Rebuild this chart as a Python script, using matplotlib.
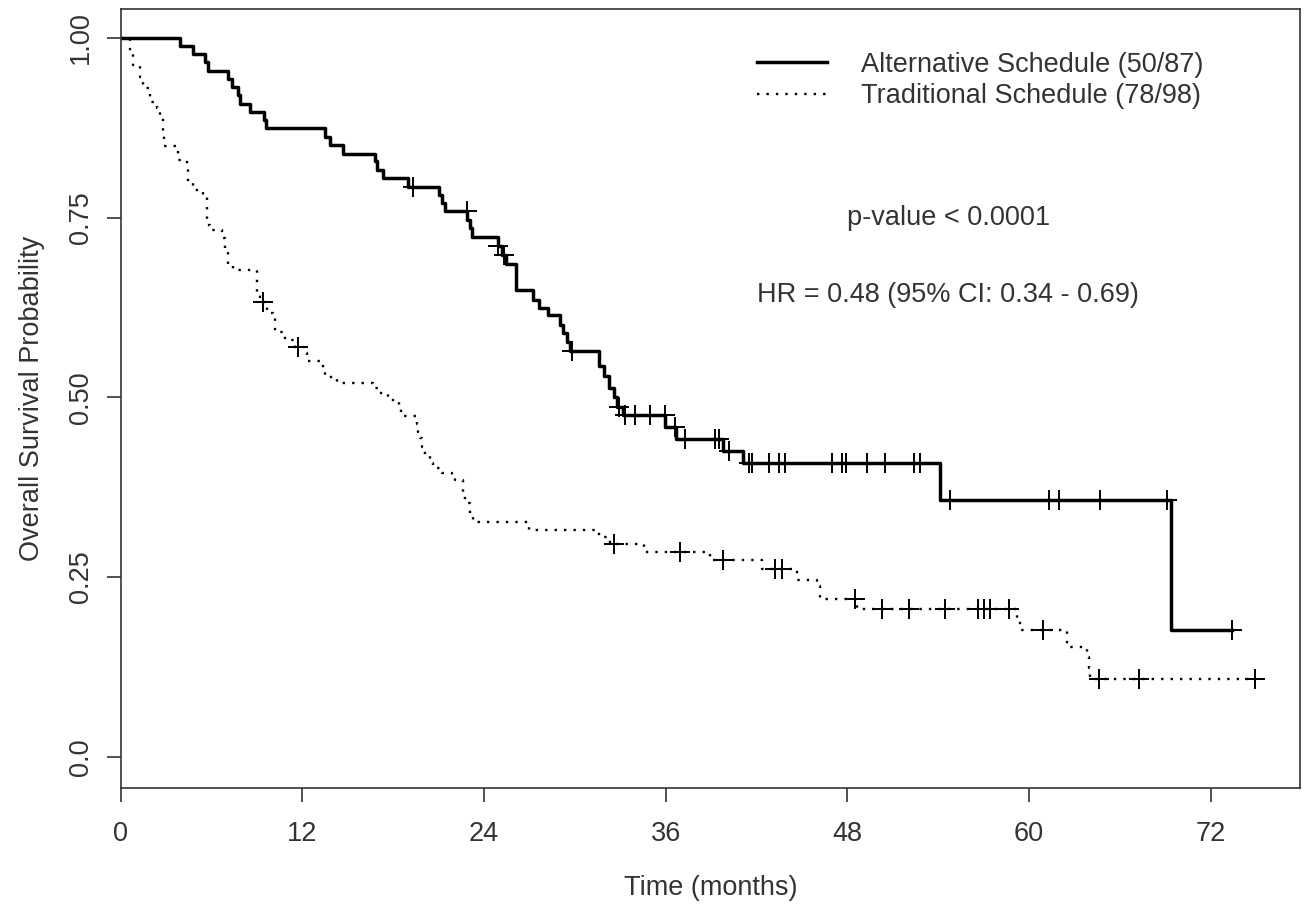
import numpy as np
import matplotlib
matplotlib.use("Agg")
import matplotlib.pyplot as plt

plt.rcParams['font.family'] = ['Liberation Sans', 'DejaVu Sans']

# Kaplan-Meier step points (time in months, survival)
alt_time = [0, 3.92, 4.76, 5.57, 5.79, 7.11, 7.34, 7.77, 7.88, 8.55, 9.47, 9.60,
            13.5, 13.83, 14.71, 16.81, 16.92, 17.36, 19.01, 21.06, 21.25, 21.43,
            22.9, 23.05, 23.2, 24.92, 25.2, 25.45, 26.1, 27.23, 27.6, 28.26,
            29.03, 29.25, 29.5, 29.7, 31.57, 31.9, 32.23, 32.6, 32.8, 33.2,
            35.95, 36.7, 39.79, 41.1, 54.15, 69.4]
alt_surv = [1.0, 0.9885, 0.977, 0.966, 0.954, 0.943, 0.931, 0.920, 0.908, 0.897,
            0.885, 0.874, 0.862, 0.851, 0.839, 0.828, 0.816, 0.805, 0.793, 0.782,
            0.770, 0.759, 0.747, 0.735, 0.723, 0.710, 0.698, 0.686, 0.649, 0.635,
            0.624, 0.614, 0.601, 0.589, 0.577, 0.564, 0.543, 0.529, 0.513, 0.500,
            0.487, 0.475, 0.459, 0.442, 0.426, 0.408, 0.357, 0.177]
alt_censor = [19.34, 22.87, 24.95, 25.3, 29.8, 32.89, 33.3, 34.0, 34.94, 35.93,
              36.6, 37.3, 39.28, 39.5, 40.2, 41.5, 41.7, 42.8, 43.5, 43.9, 47.0,
              47.65, 47.9, 49.3, 50.5, 52.4, 52.8, 54.75, 61.3, 61.97, 64.7,
              69.13, 73.4]

trad_time = [0, 0.6, 0.79, 1.28, 1.5, 1.94, 2.38, 2.6, 2.78, 2.88, 3.81, 4.36,
             4.47, 4.8, 5.46, 5.68, 5.73, 5.9, 6.67, 6.89, 7.11, 7.44, 8.99, 9.2,
             9.65, 10.09, 10.2, 10.86, 11.5, 12.18, 12.3, 13.39, 13.5, 14.28,
             16.7, 17.03, 17.69, 18.41, 18.5, 19.56, 19.67, 19.8, 19.9, 20.0,
             20.44, 20.66, 21.2, 21.88, 22.1, 22.64, 22.87, 23.09, 23.3, 26.94,
             31.57, 32.3, 34.54, 38.95, 42.37, 44.68, 46.0, 46.22, 48.65, 59.2,
             59.4, 62.5, 63.8, 63.95, 64.06]
trad_surv = [1.0, 0.98, 0.962, 0.945, 0.930, 0.911, 0.902, 0.890, 0.867, 0.849,
             0.830, 0.819, 0.798, 0.789, 0.781, 0.761, 0.740, 0.733, 0.721, 0.705,
             0.686, 0.677, 0.647, 0.632, 0.617, 0.612, 0.591, 0.580, 0.570, 0.561,
             0.550, 0.538, 0.528, 0.520, 0.513, 0.506, 0.496, 0.487, 0.474, 0.463,
             0.452, 0.443, 0.431, 0.422, 0.408, 0.401, 0.395, 0.392, 0.385, 0.360,
             0.353, 0.336, 0.327, 0.316, 0.306, 0.296, 0.285, 0.274, 0.261, 0.246,
             0.238, 0.219, 0.205, 0.190, 0.177, 0.153, 0.139, 0.123, 0.108]
trad_censor = [9.43, 11.74, 32.56, 36.92, 39.79, 43.24, 43.69, 48.53, 50.3, 52.06,
               54.48, 56.6, 57.0, 57.4, 58.7, 60.9, 64.6, 67.26, 74.9]

labels = ["Alternative Schedule (50/87)", "Traditional Schedule (78/98)"]
x_ticks = [0, 12, 24, 36, 48, 60, 72]
y_ticks = [0.0, 0.25, 0.50, 0.75, 1.00]
y_ticklabels = ["0.0", "0.25", "0.50", "0.75", "1.00"]

txt = '#333333'
fs = 19.5

fig = plt.figure(figsize=(13.06, 9.05), dpi=100)
ax = fig.add_axes([0.0924, 0.1296, 0.9954 - 0.0924, 0.990 - 0.1296])


def km_curve(times, surv, cens, ls, lw, label):
    times = np.array(times)
    surv = np.array(surv)
    cens = np.array(cens)
    t = np.append(times, cens.max())
    s = np.append(surv, surv[-1])
    ax.step(t, s, where='post', color='black', linestyle=ls, linewidth=lw, label=label)
    # survival value at each censoring time
    idx = np.searchsorted(times, cens, side='right') - 1
    ax.plot(cens, surv[idx], linestyle='none', marker='+', markersize=14,
            markeredgewidth=1.4, color='black')


km_curve(alt_time, alt_surv, alt_censor, '-', 2.5, labels[0])
km_curve(trad_time, trad_surv, trad_censor, (0, (1, 3)), 1.7, labels[1])

ax.set_xlim(0, 77.9)
ax.set_ylim(-0.043, 1.04)
ax.set_xticks(x_ticks)
ax.set_yticks(y_ticks)
ax.set_yticklabels(y_ticklabels, rotation=90, va='center')
ax.tick_params(direction='out', length=10, width=1.2, colors='#333333',
               labelcolor=txt, labelsize=fs)
ax.tick_params(axis='x', pad=14)
ax.tick_params(axis='y', pad=9)
for sp in ax.spines.values():
    sp.set_color('#333333')
    sp.set_linewidth(1.2)

ax.set_xlabel("Time (months)", fontsize=fs, color=txt, labelpad=20)
ax.set_ylabel("Overall Survival Probability", fontsize=fs, color=txt, labelpad=17)

ax.text(54.7, 0.750, "p-value < 0.0001", fontsize=fs, color=txt, ha='center', va='center')
ax.text(54.65, 0.642, "HR = 0.48 (95% CI: 0.34 - 0.69)", fontsize=fs, color=txt,
        ha='center', va='center')

leg = ax.legend(loc='upper left', bbox_to_anchor=(0.5396, 0.945), frameon=False,
                fontsize=fs, handlelength=2.6, handletextpad=1.25, labelspacing=0.2,
                borderpad=0, borderaxespad=0)
for t in leg.get_texts():
    t.set_color(txt)

fig.savefig("out.png", dpi=100)
